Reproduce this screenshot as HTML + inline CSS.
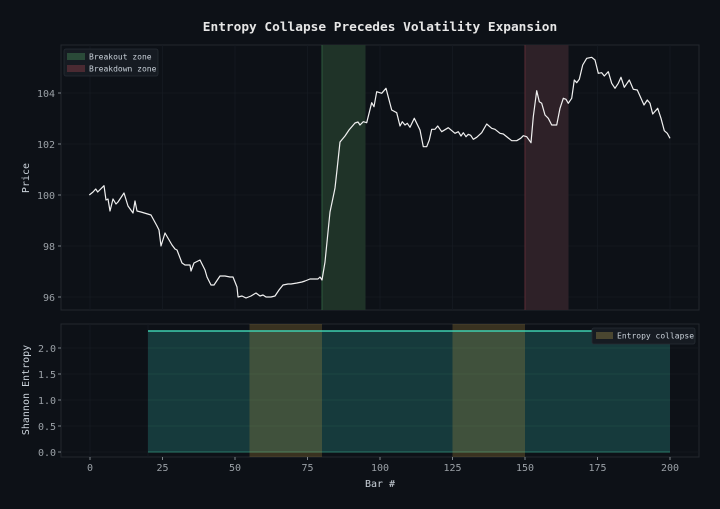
<!DOCTYPE html>
<html><head><meta charset="utf-8"><style>
html,body{margin:0;padding:0;background:#0d1117;}
svg{display:block;font-family:"DejaVu Sans Mono","Liberation Mono",monospace;}
</style></head><body>
<svg width="720" height="509" viewBox="0 0 720 509" xmlns="http://www.w3.org/2000/svg">
<rect width="720" height="509" fill="#0d1117"/>
<text x="380" y="31" text-anchor="middle" font-size="12.8" font-weight="bold" fill="#e6e6e6">Entropy Collapse Precedes Volatility Expansion</text>

<!-- top axes -->
<rect x="61" y="45" width="638" height="265" fill="#0d1117" stroke="#22272e" stroke-width="1"/>
<g stroke="#161b22" stroke-width="0.8">
<line x1="90" y1="45" x2="90" y2="310"/><line x1="162.5" y1="45" x2="162.5" y2="310"/><line x1="235" y1="45" x2="235" y2="310"/><line x1="307.5" y1="45" x2="307.5" y2="310"/><line x1="380" y1="45" x2="380" y2="310"/><line x1="452.5" y1="45" x2="452.5" y2="310"/><line x1="525" y1="45" x2="525" y2="310"/><line x1="597.5" y1="45" x2="597.5" y2="310"/><line x1="670" y1="45" x2="670" y2="310"/>
<line x1="61" y1="93" x2="699" y2="93"/><line x1="61" y1="144" x2="699" y2="144"/><line x1="61" y1="195" x2="699" y2="195"/><line x1="61" y1="246" x2="699" y2="246"/><line x1="61" y1="297" x2="699" y2="297"/>
</g>
<rect x="322" y="45" width="43.5" height="265" fill="#1f3328"/>
<line x1="322" y1="45" x2="322" y2="310" stroke="#2c5a3c" stroke-width="1"/>
<rect x="525" y="45" width="43.5" height="265" fill="#2e2128"/>
<line x1="525" y1="45" x2="525" y2="310" stroke="#5a2c34" stroke-width="1"/>
<polyline fill="none" stroke="#f0f0f0" stroke-width="1.2" stroke-linejoin="round" points="89.3,195 93,192 95.7,189 97.7,192 104,185.7 106,200 108,199 110,211 113,199 116,204 118,202 124,193 128,206 133,213 135,201 137,211 141,212 151,215 157,226 159,230 161,246 165,233 172,245 175,249 177,250 182,263 185,265 190,265 191,271 194,263 200,260 205,270 207,277 211,285 214,285 220,276 225,276 230,277 233,277 237,287 238,297 242,296 246,298 251,296 256,293 260,296 263,295 266,297 271,297 275,296 279,290 283,285 288,284 291,284 297,283 302,282 305,281 310,279 318,279 320,277 322,280 325,262 328,232 330,212 334,193 335,188 337,170 340,142 345,136 349,130 355,123 358,122 360,125 363.3,121.7 366.7,122.7 371.7,102.7 374,106.7 376.7,91.7 381.7,93.3 386,88.3 391.7,110 396.7,112.7 400,126 402.3,121.7 405,125 407.3,123.3 410,127.3 414.3,118.3 420,130 423.3,146.7 426.7,146.7 429.3,140 431.7,129.3 435,129.3 437.7,126 441.7,131.7 448.3,127.7 455,133.3 458.3,131.7 461,136 463.3,132.7 466,136.7 468.3,134.3 470.7,135.3 473.3,139.3 476.7,137.3 481.7,132.7 486.7,124 491.7,128.3 495,129.3 500,133.3 503.3,134 511.7,140.7 516.7,140.7 520.7,138.3 523.3,135.7 526.7,136.7 531,142.7 533.3,116.7 536.7,90.7 539.3,101.7 541.7,103.3 545,115 548.3,118.3 551.7,125 556.7,125 560,108.3 563.3,98.3 566,99.3 568.3,103.3 571.7,98.3 574.3,80 576.7,82.7 579.3,79.3 582.7,65 586.7,58.3 591.7,57.3 595,60 598.3,73.3 601.7,72.7 604.3,76 608.3,71.7 611.7,83.3 615,88.3 618.3,83.3 621,77.3 624.3,87.3 629.3,80 633.3,89.3 637.3,90 644,105 647.3,100 650,103.3 652.7,114 657.7,108.3 661,118.3 664.3,130.7 667.3,133.3 670,138.3"/>
<g font-size="10" fill="#9aa0a6" text-anchor="end">
<text x="55" y="97">104</text><text x="55" y="148">102</text><text x="55" y="199">100</text><text x="55" y="250">98</text><text x="55" y="301">96</text>
</g>
<g stroke="#9aa0a6" stroke-width="0.8">
<line x1="58" y1="93" x2="61" y2="93"/><line x1="58" y1="144" x2="61" y2="144"/><line x1="58" y1="195" x2="61" y2="195"/><line x1="58" y1="246" x2="61" y2="246"/><line x1="58" y1="297" x2="61" y2="297"/>
</g>
<text x="29" y="178" font-size="10" fill="#c9d1d9" text-anchor="middle" transform="rotate(-90 29 178)">Price</text>
<!-- legend top -->
<rect x="64" y="49" width="94" height="27" rx="2" fill="#161b22" stroke="#262c34" stroke-width="0.8"/>
<rect x="67" y="53" width="18" height="7" fill="#2a4a38"/>
<text x="89" y="59.5" font-size="8" fill="#c9d1d9">Breakout zone</text>
<rect x="67" y="65" width="18" height="7" fill="#4a2a32"/>
<text x="89" y="71.5" font-size="8" fill="#c9d1d9">Breakdown zone</text>

<!-- bottom axes -->
<rect x="61" y="324" width="638" height="133" fill="#0d1117" stroke="#22272e" stroke-width="1"/>
<g stroke="#161b22" stroke-width="0.8">
<line x1="90" y1="324" x2="90" y2="457"/><line x1="148" y1="324" x2="148" y2="457"/>
<line x1="61" y1="348" x2="699" y2="348"/><line x1="61" y1="374" x2="699" y2="374"/><line x1="61" y1="400" x2="699" y2="400"/><line x1="61" y1="426" x2="699" y2="426"/><line x1="61" y1="452" x2="699" y2="452"/>
</g>
<rect x="148" y="331" width="522" height="121" fill="#163a3c"/>
<g stroke="#1f4a44" stroke-width="0.8">
<line x1="148" y1="348" x2="670" y2="348"/><line x1="148" y1="374" x2="670" y2="374"/><line x1="148" y1="400" x2="670" y2="400"/><line x1="148" y1="426" x2="670" y2="426"/>
</g>
<line x1="148" y1="452" x2="670" y2="452" stroke="#2a7a6a" stroke-width="1"/>
<rect x="249.5" y="324" width="72.5" height="133" fill="rgba(190,150,60,0.25)"/>
<rect x="452.5" y="324" width="72.5" height="133" fill="rgba(190,150,60,0.25)"/>
<line x1="148" y1="331" x2="670" y2="331" stroke="#3fd0b0" stroke-width="1.5"/>
<rect x="592" y="328" width="103" height="16" rx="2" fill="#161b22" stroke="#262c34" stroke-width="0.8"/>
<rect x="596" y="332" width="17" height="7" fill="#4a4630"/>
<text x="617" y="338.5" font-size="8" fill="#c9d1d9">Entropy collapse</text>
<g font-size="10" fill="#9aa0a6" text-anchor="end">
<text x="56" y="352">2.0</text><text x="56" y="378">1.5</text><text x="56" y="404">1.0</text><text x="56" y="430">0.5</text><text x="56" y="456">0.0</text>
</g>
<g stroke="#9aa0a6" stroke-width="0.8">
<line x1="58" y1="348" x2="61" y2="348"/><line x1="58" y1="374" x2="61" y2="374"/><line x1="58" y1="400" x2="61" y2="400"/><line x1="58" y1="426" x2="61" y2="426"/><line x1="58" y1="452" x2="61" y2="452"/>
<line x1="90" y1="457" x2="90" y2="460"/><line x1="162.5" y1="457" x2="162.5" y2="460"/><line x1="235" y1="457" x2="235" y2="460"/><line x1="307.5" y1="457" x2="307.5" y2="460"/><line x1="380" y1="457" x2="380" y2="460"/><line x1="452.5" y1="457" x2="452.5" y2="460"/><line x1="525" y1="457" x2="525" y2="460"/><line x1="597.5" y1="457" x2="597.5" y2="460"/><line x1="670" y1="457" x2="670" y2="460"/>
</g>
<text x="29" y="390" font-size="10" fill="#c9d1d9" text-anchor="middle" transform="rotate(-90 29 390)">Shannon Entropy</text>
<g font-size="10" fill="#9aa0a6" text-anchor="middle">
<text x="90" y="471">0</text><text x="162.5" y="471">25</text><text x="235" y="471">50</text><text x="307.5" y="471">75</text><text x="380" y="471">100</text><text x="452.5" y="471">125</text><text x="525" y="471">150</text><text x="597.5" y="471">175</text><text x="670" y="471">200</text>
</g>
<text x="380" y="487" font-size="10" fill="#c9d1d9" text-anchor="middle">Bar #</text>
</svg>
</body></html>
